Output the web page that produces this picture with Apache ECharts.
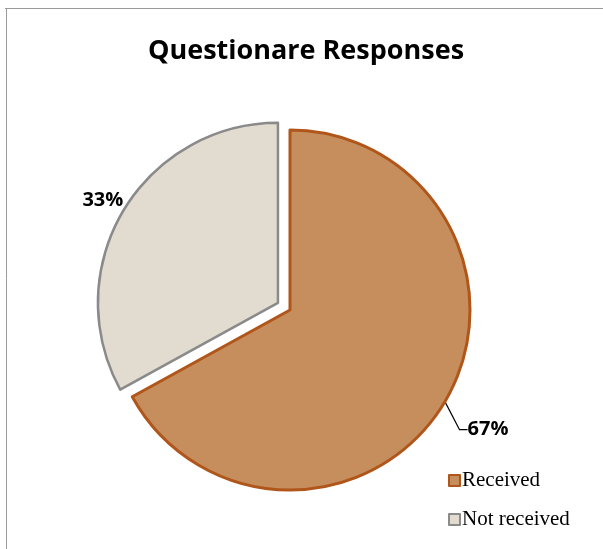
<!DOCTYPE html>
<html><head><meta charset="utf-8">
<script src="https://cdn.jsdelivr.net/npm/echarts@6/dist/echarts.min.js"></script>
<style>html,body{margin:0;padding:0;background:#fff}#c{width:603px;height:549px}</style>
</head><body><div id="c"></div>
<script>
var titleText = 'Questionare Responses';
var categories = ['Received', 'Not received'];
var values = [67, 33];
var fillColors = ['#C58E5C', '#E2DBCF'];
var borderColors = ['#B0561A', '#8A8A8A'];

var chart = echarts.init(document.getElementById('c'));
chart.setOption({
  animation: false,
  backgroundColor: '#fff',
  title: {
    text: titleText, left: 301, top: 33, textAlign: 'center',
    textStyle: { fontFamily: 'Open Sans', fontWeight: 'bold', fontSize: 27, color: '#000' }
  },
  graphic: [
    { type: 'line', shape: { x1: 5, y1: 8.5, x2: 603, y2: 8.5 }, style: { stroke: '#9a9a9a', lineWidth: 1 } },
    { type: 'line', shape: { x1: 6.5, y1: 8, x2: 6.5, y2: 549 }, style: { stroke: '#9a9a9a', lineWidth: 1 } }
  ],
  legend: {
    orient: 'vertical', left: 443, top: 465, itemWidth: 11, itemHeight: 11, itemGap: 18,
    selectedMode: false,
    textStyle: { fontFamily: 'Liberation Serif', fontSize: 21, color: '#000', padding: [0, 0, 0, -3] },
    data: categories.map(function (c, i) {
      return { name: c, icon: 'rect', itemStyle: { color: fillColors[i], borderColor: borderColors[i], borderWidth: 2 } };
    })
  },
  series: [{
    type: 'pie',
    center: [290, 310], radius: 180, startAngle: 90, clockwise: true,
    selectedMode: 'single', selectedOffset: 14,
    data: categories.map(function (c, i) {
      var d = {
        name: c, value: values[i],
        itemStyle: { color: fillColors[i], borderColor: borderColors[i], borderWidth: i === 0 ? 3 : 2.5 }
      };
      if (i === 1) {
        d.selected = true;
        d.labelLine = { show: false, length: 2, length2: 0 };
        d.label = { distanceToLabelLine: 0 };
      }
      return d;
    }),
    label: {
      show: true, position: 'outside', formatter: '{d}%',
      fontFamily: 'Open Sans', fontWeight: 'bold', fontSize: 20, color: '#000'
    },
    labelLine: { show: true, length: 10, length2: 8, lineStyle: { color: '#000', width: 1.2 } },
    labelLayout: function (p) {
      if (p.dataIndex === 0) {
        return { x: p.labelRect.x + 1, y: p.labelRect.y + p.labelRect.height / 2 + 23 };
      }
      return { dx: 2, dy: -10 };
    },
    emphasis: { disabled: true }
  }]
});
</script></body></html>
